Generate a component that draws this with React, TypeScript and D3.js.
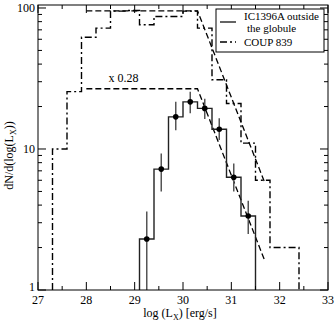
import * as d3 from 'd3'

// COUP 839 histogram (bin starts in log Lx, counts)
const coupBinStart = [27.3, 27.6, 27.9, 28.2, 28.5, 28.8, 29.1, 29.4, 29.7, 30.0, 30.3, 30.6, 30.9, 31.2, 31.5, 31.8, 32.1]
const coupCounts = [10, 25.5, 62, 72, 95, 96, 76, 87, 87, 95, 72, 31, 21, 11, 6, 2, 2]

// IC1396A outside the globule
const icBinStart = [29.1, 29.4, 29.7, 30.0, 30.3, 30.6, 30.9, 31.2]
const icCounts = [2.3, 7.2, 16.9, 21.6, 19.4, 13.8, 6.3, 3.35]
const icErrLow = [0.5, 5.0, 13.6, 17.9, 16.3, 11.6, 5.0, 2.5]
const icErrHigh = [3.6, 9.3, 21.6, 25.5, 22.7, 16.5, 7.9, 4.3]
const binWidth = 0.3

// fitted XLF of COUP, and the same scaled by 0.28
const fitLogL = [28.0, 30.3, 31.68]
const fitCounts = [95.5, 95.5, 5.9]
const scaleFactor = 0.28

const xTicks = [27, 28, 29, 30, 31, 32, 33]
const yTicks = [1, 10, 100]

const W = 334
const H = 321
const margin = { top: 5, right: 6, bottom: 31, left: 38 }
const font = '"Liberation Serif", "Times New Roman", serif'

export default function App() {
  const x = d3.scaleLinear().domain([27, 33]).range([margin.left, W - margin.right])
  const y = d3.scaleLog().domain([1, 105]).range([H - margin.bottom, margin.top])
  const [x0, x1] = x.range()
  const [yb, yt] = y.range()

  const line = d3
    .line<[number, number]>()
    .x((d) => x(d[0]))
    .y((d) => y(d[1]))

  const histPts = (starts: number[], counts: number[]) => {
    const pts: [number, number][] = [[starts[0], 1]]
    starts.forEach((s, i) => {
      pts.push([s, counts[i]])
      pts.push([s + binWidth, counts[i]])
    })
    pts.push([starts[starts.length - 1] + binWidth, 1])
    return pts
  }

  const fitPts = fitLogL.map((l, i) => [l, fitCounts[i]] as [number, number])
  const fitScaled = fitLogL.map((l, i) => [l, fitCounts[i] * scaleFactor] as [number, number])

  const minorY: number[] = []
  ;[1, 10].forEach((d) => {
    for (let k = 2; k <= 9; k++) minorY.push(d * k)
  })
  const minorX = d3.range(27.5, 33, 1)

  return (
    <svg width={W} height={H} style={{ position: 'absolute', left: 0, top: 0, background: '#fff' }}>
      <defs>
        <clipPath id="plot">
          <rect x={x0} y={yt} width={x1 - x0} height={yb - yt} />
        </clipPath>
      </defs>

      <g clipPath="url(#plot)" fill="none">
        <path d={line(fitPts)!} stroke="#000" strokeWidth={1.3} strokeDasharray="6,3" />
        <path d={line(fitScaled)!} stroke="#000" strokeWidth={1.3} strokeDasharray="6,3" />
        <path
          d={line(histPts(coupBinStart, coupCounts))!}
          stroke="#000"
          strokeWidth={1.4}
          strokeDasharray="7,3,2,3"
        />
        <path d={line(histPts(icBinStart, icCounts))!} stroke="#222" strokeWidth={1.4} />
        {icBinStart.map((s, i) => {
          const cx = x(s + binWidth / 2)
          return (
            <g key={i}>
              <line x1={cx} x2={cx} y1={y(icErrLow[i])} y2={y(icErrHigh[i])} stroke="#555" strokeWidth={1.5} />
              <circle cx={cx} cy={y(icCounts[i])} r={2.8} fill="#000" />
            </g>
          )
        })}
      </g>

      {/* frame */}
      <rect x={x0} y={yt} width={x1 - x0} height={yb - yt} fill="none" stroke="#000" strokeWidth={1} />

      {/* ticks */}
      <g stroke="#000" strokeWidth={1}>
        {xTicks.map((t) => (
          <g key={'xt' + t}>
            <line x1={x(t)} x2={x(t)} y1={yb} y2={yb - 8} />
            <line x1={x(t)} x2={x(t)} y1={yt} y2={yt + 8} />
          </g>
        ))}
        {minorX.map((t) => (
          <g key={'xm' + t}>
            <line x1={x(t)} x2={x(t)} y1={yb} y2={yb - 4} />
            <line x1={x(t)} x2={x(t)} y1={yt} y2={yt + 4} />
          </g>
        ))}
        {yTicks.map((t) => (
          <g key={'yt' + t}>
            <line x1={x0} x2={x0 + 8} y1={y(t)} y2={y(t)} />
            <line x1={x1} x2={x1 - 8} y1={y(t)} y2={y(t)} />
          </g>
        ))}
        {minorY.map((t) => (
          <g key={'ym' + t}>
            <line x1={x0} x2={x0 + 4} y1={y(t)} y2={y(t)} />
            <line x1={x1} x2={x1 - 4} y1={y(t)} y2={y(t)} />
          </g>
        ))}
      </g>

      {/* tick labels */}
      <g fontFamily={font} fontSize={12} fill="#000">
        {xTicks.map((t) => (
          <text key={'xl' + t} x={x(t)} y={yb + 14} textAnchor="middle">
            {t}
          </text>
        ))}
        {yTicks.map((t) => (
          <text key={'yl' + t} x={x0 - 3} y={y(t) + (t === 1 ? 1 : 4)} textAnchor="end">
            {t}
          </text>
        ))}
      </g>

      {/* axis titles */}
      <text x={(x0 + x1) / 2 - 3} y={H - 4} textAnchor="middle" fontFamily={font} fontSize={12}>
        log (L<tspan fontSize={8} dy={3}>X</tspan>
        <tspan dy={-3}>) [erg/s]</tspan>
      </text>
      <text
        transform={`translate(13,${(yb + yt) / 2 + 8}) rotate(-90)`}
        textAnchor="middle"
        fontFamily={font}
        fontSize={12}
      >
        dN/d(log(L<tspan fontSize={8} dy={3}>X</tspan>
        <tspan dy={-3}>))</tspan>
      </text>

      <text x={x(28.5) - 2} y={y(26.6) - 7} fontFamily={font} fontSize={12}>
        x 0.28
      </text>

      {/* legend */}
      <g fontFamily={font} fontSize={11}>
        <rect x={216} y={9} width={108} height={43} fill="#fff" stroke="#000" strokeWidth={1} />
        <line x1={220} x2={236} y1={22} y2={22} stroke="#222" strokeWidth={1.4} />
        <text x={244} y={20}>IC1396A outside</text>
        <text x={247} y={32}>the globule</text>
        <line x1={220} x2={236} y1={42} y2={42} stroke="#000" strokeWidth={1.4} strokeDasharray="7,3,2,3" />
        <text x={244} y={46}>COUP 839</text>
      </g>
    </svg>
  )
}
